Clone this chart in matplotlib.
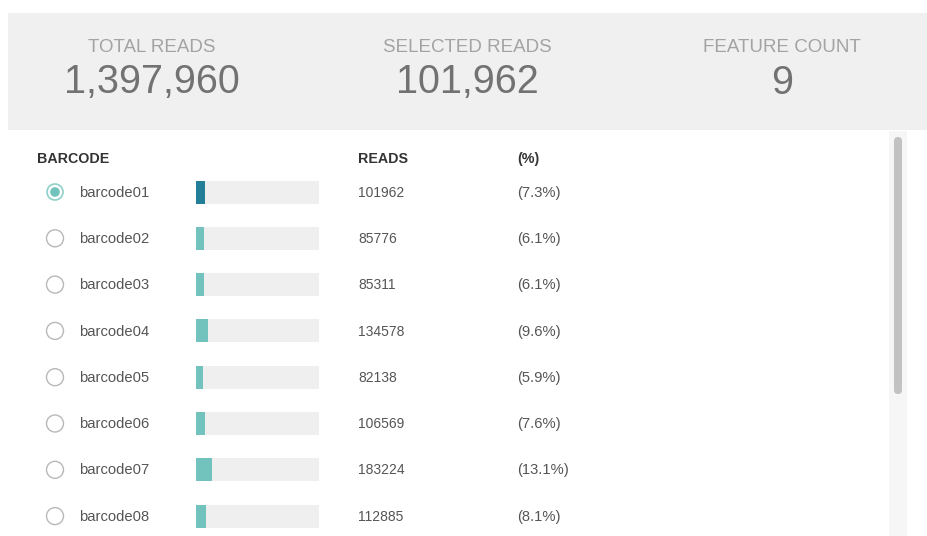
import matplotlib
matplotlib.use("Agg")
import matplotlib.pyplot as plt
from matplotlib.patches import Rectangle, Circle, FancyBboxPatch

# ---- data ----
total_reads = 1397960
selected_reads = 101962
feature_count = 9
summary_labels = ["TOTAL READS", "SELECTED READS", "FEATURE COUNT"]
barcodes = ["barcode01", "barcode02", "barcode03", "barcode04",
            "barcode05", "barcode06", "barcode07", "barcode08"]
reads = [101962, 85776, 85311, 134578, 82138, 106569, 183224, 112885]
selected_index = 0
col_headers = ["BARCODE", "READS", "(%)"]

W, H = 927, 536
fig = plt.figure(figsize=(W / 100, H / 100), dpi=100)
fig.patch.set_facecolor("white")

ax = fig.add_axes([0, 0, 1, 1])
ax.set_xlim(0, W)
ax.set_ylim(H, 0)
ax.axis("off")

FONT = ["Liberation Sans", "DejaVu Sans"]

# summary panel
ax.add_patch(Rectangle((8, 13), W - 8, 117, facecolor="#f0f0f0", edgecolor="none", zorder=0))
summary_values = [f"{total_reads:,}", f"{selected_reads:,}", f"{feature_count}"]
centers = [152, 467, 782]
for cx, lab, val in zip(centers, summary_labels, summary_values):
    ax.text(cx, 45, lab, ha="center", va="center_baseline", fontsize=13.5, color="#a3a3a3",
            family=FONT)
    ax.text(cx, 78.5, val, ha="center", va="center_baseline", fontsize=28.5, color="#727272",
            family=FONT)

# scrollbar
ax.add_patch(Rectangle((889, 131), 18, H - 131, facecolor="#f6f6f6", edgecolor="none", zorder=0))
ax.add_patch(FancyBboxPatch((894, 137), 8, 257, boxstyle="round,pad=0,rounding_size=4",
                            facecolor="#c2c2c2", edgecolor="none", zorder=1))

# column headers
for xh, txt in zip([37, 358, 517], col_headers):
    ax.text(xh, 157.5, txt, ha="left", va="center_baseline", fontsize=10.3, color="#333333",
            fontweight="bold", family=FONT)

row0, step = 192, 46.3
row_y = [row0 + i * step for i in range(len(barcodes))]

for i, (name, r, y) in enumerate(zip(barcodes, reads, row_y)):
    if i == selected_index:
        ax.add_patch(Circle((55, y), 8, facecolor="white", edgecolor="#8fd0cb", lw=1.2, zorder=3))
        ax.add_patch(Circle((55, y), 4.8, facecolor="#72c2bd", edgecolor="none", zorder=4))
    else:
        ax.add_patch(Circle((55, y), 8.5, facecolor="white", edgecolor="#b8b8b8", lw=1.0, zorder=3))
    ty = y - 0.8
    ax.text(79, ty, name, ha="left", va="center_baseline", fontsize=10.6, color="#555555", family=FONT)
    ax.text(358, ty, str(r), ha="left", va="center_baseline", fontsize=10, color="#555555", family=FONT)
    ax.text(517, ty, f"({r / total_reads * 100:.1f}%)", ha="left", va="center_baseline",
            fontsize=10.6, color="#555555", family=FONT)

# bar axes: spans x pixels 196..319, y in pixel units
bax = fig.add_axes([196 / W, 0, 123 / W, 1])
bax.set_xlim(0, total_reads)
bax.set_ylim(H, 0)
bax.axis("off")
bax.patch.set_alpha(0)
bax.barh(row_y, [total_reads] * len(reads), height=23, left=0, color="#efefef", zorder=1)
colors = ["#237f98" if i == selected_index else "#72c2bd" for i in range(len(reads))]
bax.barh(row_y, reads, height=23, left=0, color=colors, zorder=2)

fig.savefig("out.png", dpi=100, facecolor="white")
